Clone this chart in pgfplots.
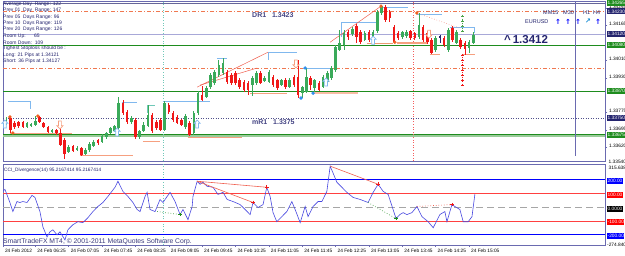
\documentclass[border=0pt]{standalone}
\usepackage{pgfplots}
\pgfplotsset{compat=1.18}
\usepackage{pgfplotstable}
\usepackage{fontspec}
\setmainfont{Liberation Sans}
\newfontfamily\dejavu{DejaVu Sans}
\definecolor{frame}{HTML}{6A6AB0}
\definecolor{navyd}{HTML}{24246E}
\definecolor{grn}{HTML}{1E8C1E}
\definecolor{salm}{HTML}{F07850}
\definecolor{lilac}{HTML}{A8A8D8}
\definecolor{lblue}{HTML}{80B8EE}
\definecolor{tealc}{HTML}{70C8B8}
\definecolor{supp}{HTML}{F6A080}
\definecolor{bullc}{HTML}{3AAA5A}
\definecolor{bearc}{HTML}{F01818}
\definecolor{orng}{HTML}{F06020}
\definecolor{bdot}{HTML}{3090F0}
\definecolor{ccil}{HTML}{4848E0}
\definecolor{trend}{HTML}{F06050}
\newcommand\fa{\fontsize{4.8}{5.4}\selectfont}
\newcommand\fb{\fontsize{5.0}{6}\selectfont}

\pgfdeclareplotmark{hup}{%
\pgfpathmoveto{\pgfqpoint{0pt}{4pt}}%
\pgfpathlineto{\pgfqpoint{3pt}{0.8pt}}%
\pgfpathlineto{\pgfqpoint{1.4pt}{0.8pt}}%
\pgfpathlineto{\pgfqpoint{1.4pt}{-4pt}}%
\pgfpathlineto{\pgfqpoint{-1.4pt}{-4pt}}%
\pgfpathlineto{\pgfqpoint{-1.4pt}{0.8pt}}%
\pgfpathlineto{\pgfqpoint{-3pt}{0.8pt}}%
\pgfpathclose\pgfusepathqfillstroke}
\pgfdeclareplotmark{hdown}{%
\pgfpathmoveto{\pgfqpoint{0pt}{-4pt}}%
\pgfpathlineto{\pgfqpoint{3pt}{-0.8pt}}%
\pgfpathlineto{\pgfqpoint{1.4pt}{-0.8pt}}%
\pgfpathlineto{\pgfqpoint{1.4pt}{4pt}}%
\pgfpathlineto{\pgfqpoint{-1.4pt}{4pt}}%
\pgfpathlineto{\pgfqpoint{-1.4pt}{-0.8pt}}%
\pgfpathlineto{\pgfqpoint{-3pt}{-0.8pt}}%
\pgfpathclose\pgfusepathqfillstroke}

\pgfplotsset{
  wick/.style={draw=none, mark=none, forget plot, error bars/.cd, y dir=both, y explicit, error mark=none,
    error bar style={draw=#1, solid, line width=0.7pt}},
  body/.style={draw=none, mark=none, forget plot, error bars/.cd, y dir=both, y explicit, error mark=none,
    error bar style={draw=#1, solid, line width=2.6pt}},
}

\pgfplotstableread{
i o h l c
0 1.33719 1.33750 1.33710 1.33741
1 1.33723 1.33755 1.33719 1.33741
6 1.33710 1.33732 1.33705 1.33728
7 1.33714 1.33728 1.33710 1.33723
8 1.33719 1.33759 1.33714 1.33737
12 1.33687 1.33701 1.33683 1.33696
16 1.33597 1.33629 1.33593 1.33620
18 1.33606 1.33624 1.33602 1.33615
20 1.33588 1.33615 1.33584 1.33606
21 1.33606 1.33642 1.33597 1.33633
22 1.33624 1.33651 1.33620 1.33642
24 1.33642 1.33678 1.33638 1.33669
25 1.33665 1.33687 1.33656 1.33683
26 1.33683 1.33710 1.33678 1.33705
27 1.33692 1.33719 1.33687 1.33714
28 1.33705 1.33844 1.33696 1.33817
31 1.33732 1.33759 1.33723 1.33750
33 1.33665 1.33696 1.33656 1.33692
34 1.33692 1.33732 1.33687 1.33719
35 1.33714 1.33808 1.33710 1.33764
39 1.33696 1.33826 1.33692 1.33817
44 1.33710 1.33768 1.33701 1.33759
46 1.33683 1.33782 1.33674 1.33773
47 1.33773 1.33871 1.33764 1.33862
49 1.33844 1.33894 1.33840 1.33885
50 1.33889 1.33952 1.33880 1.33943
51 1.33907 1.33966 1.33898 1.33957
52 1.33943 1.34011 1.33934 1.33988
53 1.33952 1.34020 1.33943 1.33997
60 1.33898 1.33939 1.33849 1.33930
61 1.33907 1.33961 1.33898 1.33952
63 1.33916 1.33939 1.33912 1.33930
64 1.33912 1.33966 1.33907 1.33957
67 1.33898 1.33925 1.33894 1.33921
69 1.33889 1.33930 1.33885 1.33921
72 1.33862 1.33894 1.33840 1.33889
73 1.33867 1.33975 1.33862 1.33934
75 1.33885 1.33925 1.33867 1.33921
77 1.33889 1.33943 1.33885 1.33934
78 1.33912 1.33961 1.33903 1.33952
79 1.33930 1.33984 1.33921 1.33975
80 1.33966 1.34078 1.33957 1.34069
81 1.34055 1.34145 1.34051 1.34087
82 1.34078 1.34145 1.34055 1.34132
84 1.34127 1.34159 1.34118 1.34150
87 1.34100 1.34141 1.34096 1.34132
89 1.34109 1.34145 1.34100 1.34136
90 1.34141 1.34235 1.34132 1.34226
91 1.34222 1.34258 1.34213 1.34253
96 1.34114 1.34141 1.34105 1.34136
97 1.34118 1.34145 1.34109 1.34136
100 1.34114 1.34222 1.34105 1.34168
104 1.34055 1.34118 1.34046 1.34109
107 1.34055 1.34154 1.34046 1.34145
109 1.34087 1.34145 1.34082 1.34136
112 1.34064 1.34100 1.34042 1.34091
113 1.34087 1.34136 1.34082 1.34123
}\bull

\pgfplotstableread{
i o h l c
2 1.33750 1.33759 1.33683 1.33696
3 1.33728 1.33737 1.33701 1.33710
4 1.33732 1.33737 1.33705 1.33714
5 1.33732 1.33737 1.33705 1.33710
9 1.33755 1.33759 1.33728 1.33732
10 1.33728 1.33732 1.33705 1.33710
11 1.33710 1.33714 1.33683 1.33687
13 1.33696 1.33701 1.33674 1.33683
14 1.33683 1.33705 1.33624 1.33629
15 1.33651 1.33660 1.33566 1.33588
17 1.33624 1.33629 1.33597 1.33602
19 1.33615 1.33620 1.33580 1.33584
23 1.33651 1.33656 1.33629 1.33638
29 1.33817 1.33831 1.33764 1.33773
30 1.33777 1.33786 1.33723 1.33732
32 1.33741 1.33750 1.33656 1.33665
36 1.33764 1.33773 1.33683 1.33692
37 1.33732 1.33741 1.33696 1.33705
38 1.33741 1.33750 1.33692 1.33696
40 1.33808 1.33817 1.33768 1.33777
41 1.33773 1.33782 1.33732 1.33741
42 1.33755 1.33764 1.33723 1.33728
43 1.33741 1.33746 1.33714 1.33719
45 1.33728 1.33737 1.33669 1.33674
48 1.33853 1.33894 1.33826 1.33831
54 1.33957 1.33966 1.33903 1.33912
55 1.33943 1.33952 1.33898 1.33907
56 1.33952 1.33961 1.33898 1.33907
57 1.33921 1.33930 1.33880 1.33889
58 1.33912 1.33921 1.33867 1.33876
59 1.33907 1.33916 1.33853 1.33876
62 1.33952 1.33961 1.33903 1.33907
65 1.33934 1.33943 1.33889 1.33898
66 1.33921 1.33925 1.33876 1.33885
68 1.33921 1.33930 1.33880 1.33889
70 1.33934 1.33943 1.33889 1.33898
71 1.33934 1.34011 1.33840 1.33853
74 1.33930 1.33939 1.33876 1.33898
76 1.33907 1.33916 1.33871 1.33876
83 1.34136 1.34145 1.34100 1.34114
85 1.34163 1.34172 1.34087 1.34114
86 1.34136 1.34145 1.34082 1.34091
88 1.34136 1.34145 1.34091 1.34100
92 1.34249 1.34258 1.34181 1.34190
93 1.34226 1.34235 1.34181 1.34199
94 1.34159 1.34168 1.34087 1.34091
95 1.34132 1.34141 1.34100 1.34109
98 1.34141 1.34145 1.34100 1.34109
99 1.34132 1.34136 1.34100 1.34109
101 1.34159 1.34168 1.34091 1.34100
102 1.34132 1.34141 1.34082 1.34091
103 1.34100 1.34109 1.34037 1.34042
106 1.34109 1.34118 1.34069 1.34078
108 1.34154 1.34163 1.34091 1.34100
110 1.34100 1.34109 1.34064 1.34069
111 1.34087 1.34096 1.34037 1.34064
}\bear

\pgfplotstableread{
i o h l c
105 1.34114 1.34123 1.34087 1.34118
}\doji

\pgfplotstableread{
x v
0 109
0.7 131
1.9 35
2.6 -31
3.6 42
4.3 35
5.0 42
6.0 35
7.2 87
7.9 72
9.1 -31
9.8 -142
10.8 -216
11.5 -179
12.2 -164
13.2 -201
13.9 -179
15.1 -238
15.8 -164
17.0 -127
18.2 -105
19.4 -112
20.6 -76
21.8 -31
23.0 6
24.2 35
25.4 79
27.1 146
27.8 190
29.0 116
30.2 79
31.4 35
32.4 -16
33.1 -31
34.3 79
34.8 109
35.5 -16
36.7 -31
37.9 57
38.6 35
39.6 79
40.3 109
41.5 42
42.7 -53
43.4 -16
44.6 -90
45.6 6
45.8 79
46.8 190
47.5 168
48.2 183
49.2 153
50.6 146
51.8 94
53.0 109
54.0 57
55.4 42
57.1 20
58.3 -16
59.5 -53
60.2 35
61.4 -2
62.6 20
63.5 146
64.3 79
65.0 -39
65.9 -105
67.1 -68
68.3 -31
69.5 42
70.3 -16
71.5 -112
72.7 6
73.4 -68
74.6 6
75.8 42
76.7 42
77.9 116
78.7 300
80.3 183
81.5 146
82.7 109
84.2 72
85.9 57
87.8 35
89.0 109
90.2 168
91.4 116
92.6 94
94.5 -83
95.4 -53
96.2 -39
97.1 -53
98.3 -39
99.5 6
100.7 -68
102.2 -105
103.4 -149
105.0 -53
106.2 -31
106.7 -105
107.9 20
108.6 6
109.8 -16
110.6 -105
111.8 -105
112.7 -68
113.4 95
}\cci

\begin{document}
\begin{tikzpicture}
\path[use as bounding box] (0,0) rectangle (625pt,255pt);
\clip (0,0) rectangle (625pt,255pt);
\fill[white] (0,0) rectangle (625pt,255pt);

% ---------------- main price panel ----------------
\begin{axis}[at={(3pt,94pt)}, anchor=south west, scale only axis,
  width=602pt, height=160pt,
  xmin=0.24, xmax=144.6, ymin=1.33557, ymax=1.34276,
  axis line style={draw=frame, line width=0.8pt},
  xtick=\empty,
  ytick={1.33620,1.33695,1.33775,1.33930,1.34010,1.34165,1.34245},
  yticklabels={1.33620,1.33695,1.33775,1.33930,1.34010,1.34165,1.34245},
  ytick pos=right, yticklabel pos=right, tick align=outside, major tick length=2pt,
  tick style={draw=frame, line width=0.5pt},
  yticklabel style={font=\fa, anchor=west, xshift=-1.5pt, yshift=1.5pt, text=black},
  scaled y ticks=false, clip mode=individual]

% full-width levels
\addplot[navyd!70, line width=0.6pt] coordinates {(0.24,1.34265)(144.6,1.34265)};
\addplot[salm, dash pattern=on 4pt off 2pt on 1pt off 2pt, line width=0.7pt] coordinates {(0.24,1.34230)(144.6,1.34230)};
\addplot[lilac, line width=0.6pt] coordinates {(0.24,1.34125)(144.6,1.34125)};
\addplot[grn, line width=1.1pt] coordinates {(0.24,1.34078)(144.6,1.34078)};
\addplot[salm, dash pattern=on 4pt off 2pt on 1pt off 2pt, line width=0.7pt] coordinates {(0.24,1.33975)(144.6,1.33975)};
\addplot[grn, line width=1.1pt] coordinates {(0.24,1.33871)(144.6,1.33871)};
\addplot[navyd!80, dash pattern=on 1pt off 1.5pt, line width=0.6pt] coordinates {(0.24,1.33750)(144.6,1.33750)};
\addplot[grn!45, line width=1.6pt] coordinates {(0.24,1.33669)(144.6,1.33669)};
\addplot[grn, line width=1pt] coordinates {(0.24,1.33677)(144.6,1.33677)};

% verticals
\addplot[tealc, dotted, line width=0.6pt] coordinates {(38.6,1.33557)(38.6,1.34276)};
\addplot[bearc!70, dotted, line width=0.6pt] coordinates {(98.6,1.33557)(98.6,1.34276)};
\addplot[frame, line width=0.8pt] coordinates {(137.6,1.33580)(137.6,1.34276)};

% resistance segments
\addplot[lblue, line width=0.8pt] coordinates {(38.6,1.33826)(49.9,1.33826)};
\addplot[lblue, line width=0.8pt] coordinates {(51.6,1.34020)(54,1.34020)};
\addplot[lblue, line width=0.8pt] coordinates {(63.8,1.34011)(63.8,1.34046)(70.7,1.34046)};
\addplot[lblue, line width=0.8pt] coordinates {(72.2,1.33975)(78.7,1.33975)};
\addplot[lblue, line width=0.8pt] coordinates {(81.5,1.34114)(81.5,1.34181)(89.9,1.34181)};
\addplot[lblue, line width=0.8pt] coordinates {(90.6,1.34249)(97.4,1.34249)};
\addplot[lblue, line width=0.8pt] coordinates {(99.5,1.34217)(105.5,1.34217)};
\addplot[lblue, line width=0.8pt] coordinates {(107.4,1.34159)(113.4,1.34159)(113.4,1.34132)};
\addplot[lblue, line width=0.8pt] coordinates {(28.8,1.33786)(28.8,1.33822)(32.4,1.33822)};
\addplot[tealc, line width=0.8pt] coordinates {(34.8,1.33773)(34.8,1.33808)(36.7,1.33808)};
\addplot[lblue, line width=0.8pt] coordinates {(1.5,1.33826)(6.7,1.33826)(6.7,1.33790)};

% support segments
\addplot[supp, line width=0.8pt] coordinates {(1.9,1.33683)(16.8,1.33683)};
\addplot[supp, line width=0.8pt] coordinates {(18.7,1.33580)(31.4,1.33580)};
\addplot[supp, line width=0.8pt] coordinates {(33.8,1.33647)(37.9,1.33647)};
\addplot[supp, line width=0.8pt] coordinates {(44.6,1.33665)(57.6,1.33665)};
\addplot[supp, line width=0.8pt] coordinates {(59.5,1.33862)(68.3,1.33862)};
\addplot[supp!70, line width=1.5pt] coordinates {(74.6,1.33862)(85.4,1.33862)};
\addplot[supp!80!brown, line width=0.8pt] coordinates {(87.5,1.34087)(93.8,1.34087)};
\addplot[supp, line width=1.2pt] coordinates {(94.7,1.34087)(101.9,1.34087)};
\addplot[supp, line width=0.8pt] coordinates {(102.6,1.34037)(105,1.34037)};
\addplot[supp, line width=0.8pt] coordinates {(110.3,1.34037)(113.4,1.34037)};

% trend lines
\addplot[trend, line width=0.5pt] coordinates {(46.8,1.33889)(63.8,1.34046)};
\addplot[trend, line width=0.5pt] coordinates {(47.5,1.33898)(61.2,1.33975)};
\addplot[trend, line width=0.5pt] coordinates {(78.7,1.34091)(90.6,1.34249)};
\addplot[trend!70, dotted, line width=0.6pt] coordinates {(99.5,1.34222)(109.8,1.34154)};

% candles: wicks
\addplot[wick=bullc] table[x=i, y expr={(\thisrow{h}+\thisrow{l})/2}, y error expr={(\thisrow{h}-\thisrow{l})/2}] {\bull};
\addplot[wick=bearc] table[x=i, y expr={(\thisrow{h}+\thisrow{l})/2}, y error expr={(\thisrow{h}-\thisrow{l})/2}] {\bear};
\addplot[wick=navyd] table[x=i, y expr={(\thisrow{h}+\thisrow{l})/2}, y error expr={(\thisrow{h}-\thisrow{l})/2}] {\doji};
% candles: bodies
\addplot[body=bullc] table[x=i, y expr={(\thisrow{o}+\thisrow{c})/2}, y error expr={(\thisrow{c}-\thisrow{o})/2}] {\bull};
\addplot[body=bearc] table[x=i, y expr={(\thisrow{o}+\thisrow{c})/2}, y error expr={(\thisrow{o}-\thisrow{c})/2}] {\bear};
\addplot[body=navyd] table[x=i, y expr={(\thisrow{o}+\thisrow{c})/2}, y error expr={(\thisrow{o}-\thisrow{c})/2}] {\doji};

% signal stacks
\addplot[grn!80, dotted, mark=+, mark size=1.2pt, mark options={solid}] coordinates {(110.4,1.34208)(110.4,1.34186)(110.4,1.34163)(110.4,1.34141)};
\addplot[bearc, dotted, mark=+, mark size=1.2pt, mark options={solid}] coordinates {(110.4,1.34033)(110.4,1.34011)(110.4,1.33988)(110.4,1.33966)(110.4,1.33943)(110.4,1.33921)(110.4,1.33898)};

% dots
\addplot[only marks, mark=*, mark size=1.5pt, orng] coordinates {(1.9,1.33755)(8.6,1.33759)(2.6,1.33683)(90.9,1.34253)(99.5,1.34222)(94.2,1.34091)};
\addplot[only marks, mark=*, mark size=1.5pt, bdot] coordinates {(72.7,1.33975)(71.7,1.33840)(74.6,1.33862)};

% hollow arrows
\addplot[only marks, mark=hup, mark options={fill=white, draw=lblue, line width=0.7pt}] coordinates {(27.6,1.33687)(46.8,1.33723)(77.7,1.33912)(89,1.34100)(0.7,1.33723)};
\addplot[only marks, mark=hdown, mark options={fill=white, draw=supp, line width=0.7pt}] coordinates {(13.9,1.33719)(70.5,1.33993)(102.4,1.34127)};
\end{axis}

% ---------------- CCI panel ----------------
\begin{axis}[at={(3pt,10pt)}, anchor=south west, scale only axis,
  width=602pt, height=81pt,
  xmin=0.24, xmax=144.6, ymin=-274.84, ymax=315.638,
  axis line style={draw=frame, line width=0.8pt},
  ytick=\empty,
  xtick={0.25,8,16,24,32,40,48,56,64,72,80,88,96,104,112},
  xticklabels={24 Feb 2012,24 Feb 06:25,24 Feb 07:05,24 Feb 07:45,24 Feb 08:25,24 Feb 09:05,24 Feb 09:45,24 Feb 10:25,24 Feb 11:05,24 Feb 11:45,24 Feb 12:25,24 Feb 13:05,24 Feb 13:45,24 Feb 14:25,24 Feb 15:05},
  xtick pos=bottom, tick align=outside, major tick length=1.5pt,
  tick style={draw=frame, line width=0.5pt},
  xticklabel style={font=\fa, anchor=north west, xshift=-1.5pt, yshift=1pt, text=black},
  clip mode=individual]
\addplot[tealc, dotted, line width=0.6pt] coordinates {(38.6,-274.84)(38.6,315.638)};
\addplot[blue, line width=1pt] coordinates {(0.24,200)(144.6,200)};
\addplot[blue, line width=1pt] coordinates {(0.24,-200)(144.6,-200)};
\addplot[red!75, line width=0.6pt] coordinates {(0.24,100)(144.6,100)};
\addplot[red!75, line width=0.6pt] coordinates {(0.24,-100)(144.6,-100)};
\addplot[gray!70, line width=1.4pt, dash pattern=on 7pt off 4pt] coordinates {(0.24,0)(144.6,0)};
\addplot[ccil, line width=0.6pt] table[x=x, y=v] {\cci};
\addplot[trend, line width=0.6pt] coordinates {(46.8,190)(63.5,146)};
\addplot[trend, line width=0.6pt] coordinates {(46.8,190)(60.2,35)};
\addplot[trend, line width=0.6pt] coordinates {(78.7,300)(90.2,168)};
\addplot[grn!80, dotted, line width=0.7pt] coordinates {(37.2,-31)(42.7,-53)};
\addplot[grn!80, dotted, line width=0.7pt] coordinates {(87.8,35)(94.5,-83)};
\addplot[trend, dotted, line width=0.7pt] coordinates {(99.5,6)(107.9,20)};
\addplot[only marks, mark=+, mark size=1.8pt, bearc, line width=0.8pt] coordinates {(63.5,146)(60.2,35)(90.2,168)(107.9,20)};
\addplot[only marks, mark=+, mark size=1.8pt, grn, line width=0.8pt] coordinates {(42.7,-53)(94.5,-83)};
\end{axis}

% ---------------- texts (pixel coords, y down) ----------------
\begin{scope}[x=1pt, y=-1pt, shift={(0pt,255pt)}]
\begin{scope}[every node/.style={anchor=west, inner sep=0pt, font=\fb, text=navyd}]
\node at (3,4) {Average Day\ \ Range: 122};
\node at (3,10.5) {Prev 01\ \ Day\ \ Range: 147};
\node at (3,17) {Prev 05\ \ Days Range: 96};
\node at (3,23.3) {Prev 10\ \ Days Range: 119};
\node at (3,29.6) {Prev 20\ \ Days Range: 126};
\node at (3,36) {Room Up:\ \ \ \ \ \ 65};
\node at (3,42.3) {Room Down:\ \ 109};
\node at (3,48.6) {Tighest Stoploss should be :};
\node at (3,55) {Long: 21 Pips at 1.34121};
\node at (3,61.3) {Short: 36 Pips at 1.34127};
\end{scope}
\node[anchor=west, inner sep=0pt, font=\fontsize{7}{8}\selectfont\bfseries, text=navyd!85] at (252,15.5) {DR1\ \ \ 1.3423};
\node[anchor=west, inner sep=0pt, font=\fontsize{7}{8}\selectfont\bfseries, text=navyd!85] at (252,122) {mR1\ \ \ 1.3375};
\node[anchor=west, inner sep=0pt, font=\fontsize{11.5}{12}\selectfont\bfseries, text=navyd] at (504,40) {\textasciicircum\,1.3412};
\begin{scope}[every node/.style={anchor=west, inner sep=0pt, font=\fontsize{5.5}{6}\selectfont, text=navyd}]
\node at (543,13) {MM15};
\node at (563,13) {M30};
\node at (583,13) {H1};
\node at (593,13) {H4};
\node at (525,21.5) {EURUSD};
\end{scope}
\begin{scope}[every node/.style={inner sep=0pt, font=\dejavu\fontsize{7}{7}\selectfont\bfseries}]
\node[text=blue] at (558,21.5) {↑};
\node[text=blue] at (568,21.5) {↑};
\node[text=blue] at (578,21.5) {↑};
\node[text=cyan!70!blue] at (588,21.5) {↗};
\node[text=blue] at (598,21.5) {↑};
\end{scope}
% right price labels
\begin{scope}[every node/.style={anchor=west, inner sep=0.5pt, font=\fa, text=white, minimum height=6pt}]
\node[fill=grn] at (607,2.8) {1.34265};
\node[fill=navyd] at (607,11.5) {1.34230};
\node[fill=navyd] at (607,34) {1.34120};
\node[fill=grn] at (607,45) {1.34080};
\node[fill=grn] at (607,91) {1.33870};
\node[fill=navyd] at (607,118) {1.33750};
\node[fill=grn] at (607,135) {1.33675};
\node[fill=blue] at (607,181) {200.00};
\node[fill=red] at (607,195) {100.00};
\node[fill=black] at (607,208.5) {0.0000};
\node[fill=red] at (607,222) {-100.00};
\node[fill=blue] at (607,236) {-200.00};
\end{scope}
\node[anchor=west, inner sep=0pt, font=\fa] at (608.5,162) {1.33540};
\node[anchor=west, inner sep=0pt, font=\fa] at (608.5,168) {315.638};
\node[anchor=west, inner sep=0pt, font=\fa] at (607,245) {-274.840};
\node[anchor=west, inner sep=0pt, font=\fa, text=navyd] at (4,170) {CCI\_Divergence(14) 95.2167414 95.2167414};
\node[anchor=west, inner sep=0pt, font=\fontsize{6.8}{7.5}\selectfont, text=navyd!90] at (3,241.5) {SmartTradeFX MT4, © 2001-2011 MetaQuotes Software Corp.};
\end{scope}
\end{tikzpicture}
\end{document}
